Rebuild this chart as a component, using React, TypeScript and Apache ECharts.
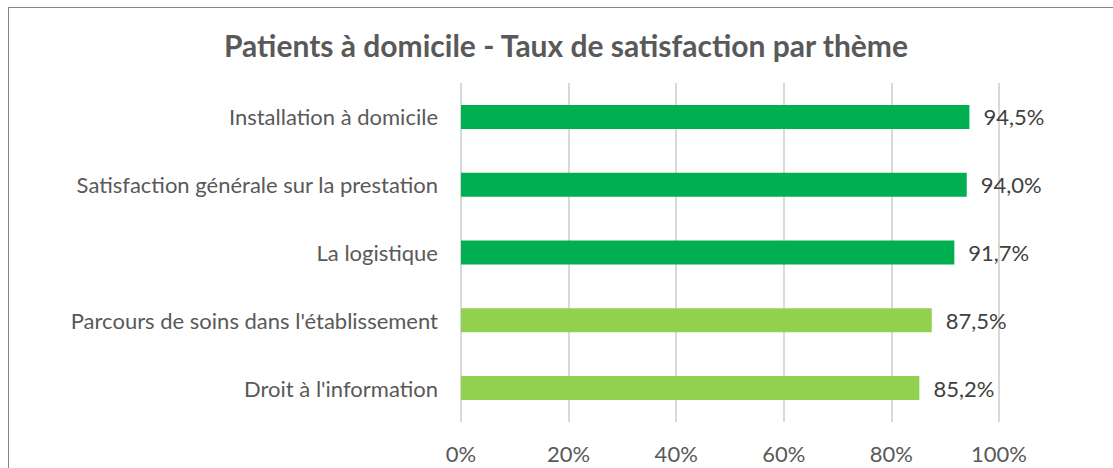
import React, { useEffect, useRef } from "react";
import * as echarts from "echarts";

const titleText = "Patients à domicile - Taux de satisfaction par thème";
const categories = [
  "Installation à domicile",
  "Satisfaction générale sur la prestation",
  "La logistique",
  "Parcours de soins dans l'établissement",
  "Droit à l'information",
];
const values = [94.5, 94.0, 91.7, 87.5, 85.2];
const barColors = ["#00B050", "#00B050", "#00B050", "#92D050", "#92D050"];
const axisMin = 0;
const axisMax = 100;
const axisStep = 20;

const FONT = "Lato, 'Open Sans', sans-serif";

export default function App() {
  const ref = useRef<HTMLDivElement>(null);
  useEffect(() => {
    if (!ref.current) return;
    const chart = echarts.init(ref.current, null, { renderer: "svg" });
    chart.setOption({
      animation: false,
      backgroundColor: "#ffffff",
      textStyle: { fontFamily: FONT },
      title: {
        text: titleText,
        left: 552,
        top: 17,
        textAlign: "center",
        textStyle: {
          fontFamily: FONT,
          fontSize: 30,
          fontWeight: "bold",
          color: "#595959",
        },
      },
      grid: { left: 452, top: 75, width: 538, height: 339, containLabel: false },
      xAxis: {
        type: "value",
        min: axisMin,
        max: axisMax,
        interval: axisStep,
        axisLine: { show: false },
        axisTick: { show: false },
        splitLine: { show: true, lineStyle: { color: "#D9D9D9", width: 2 } },
        axisLabel: {
          formatter: "{value}%",
          margin: 20,
          fontFamily: FONT,
          fontSize: 22,
          color: "#595959",
        },
      },
      yAxis: {
        type: "category",
        data: categories,
        inverse: true,
        axisLine: { show: false },
        axisTick: { show: false },
        splitLine: { show: false },
        axisLabel: {
          margin: 23,
          fontFamily: FONT,
          fontSize: 22,
          color: "#595959",
        },
      },
      series: [
        {
          type: "bar",
          data: values.map((v, i) => ({ value: v, itemStyle: { color: barColors[i] } })),
          barWidth: 24,
          label: {
            show: true,
            position: "right",
            distance: 14,
            fontFamily: FONT,
            fontSize: 22,
            color: "#404040",
            formatter: (p: any) => p.value.toFixed(1).replace(".", ",") + "%",
          },
        },
      ],
    });
    return () => chart.dispose();
  }, []);
  return (
    <div
      style={{
        position: "fixed",
        left: 8,
        top: 7,
        width: 1120,
        height: 470,
        borderTop: "1px solid #868686",
        borderLeft: "1px solid #868686",
        boxSizing: "border-box",
        background: "#fff",
      }}
    >
      <div ref={ref} style={{ width: 1111, height: 469 }} />
    </div>
  );
}
